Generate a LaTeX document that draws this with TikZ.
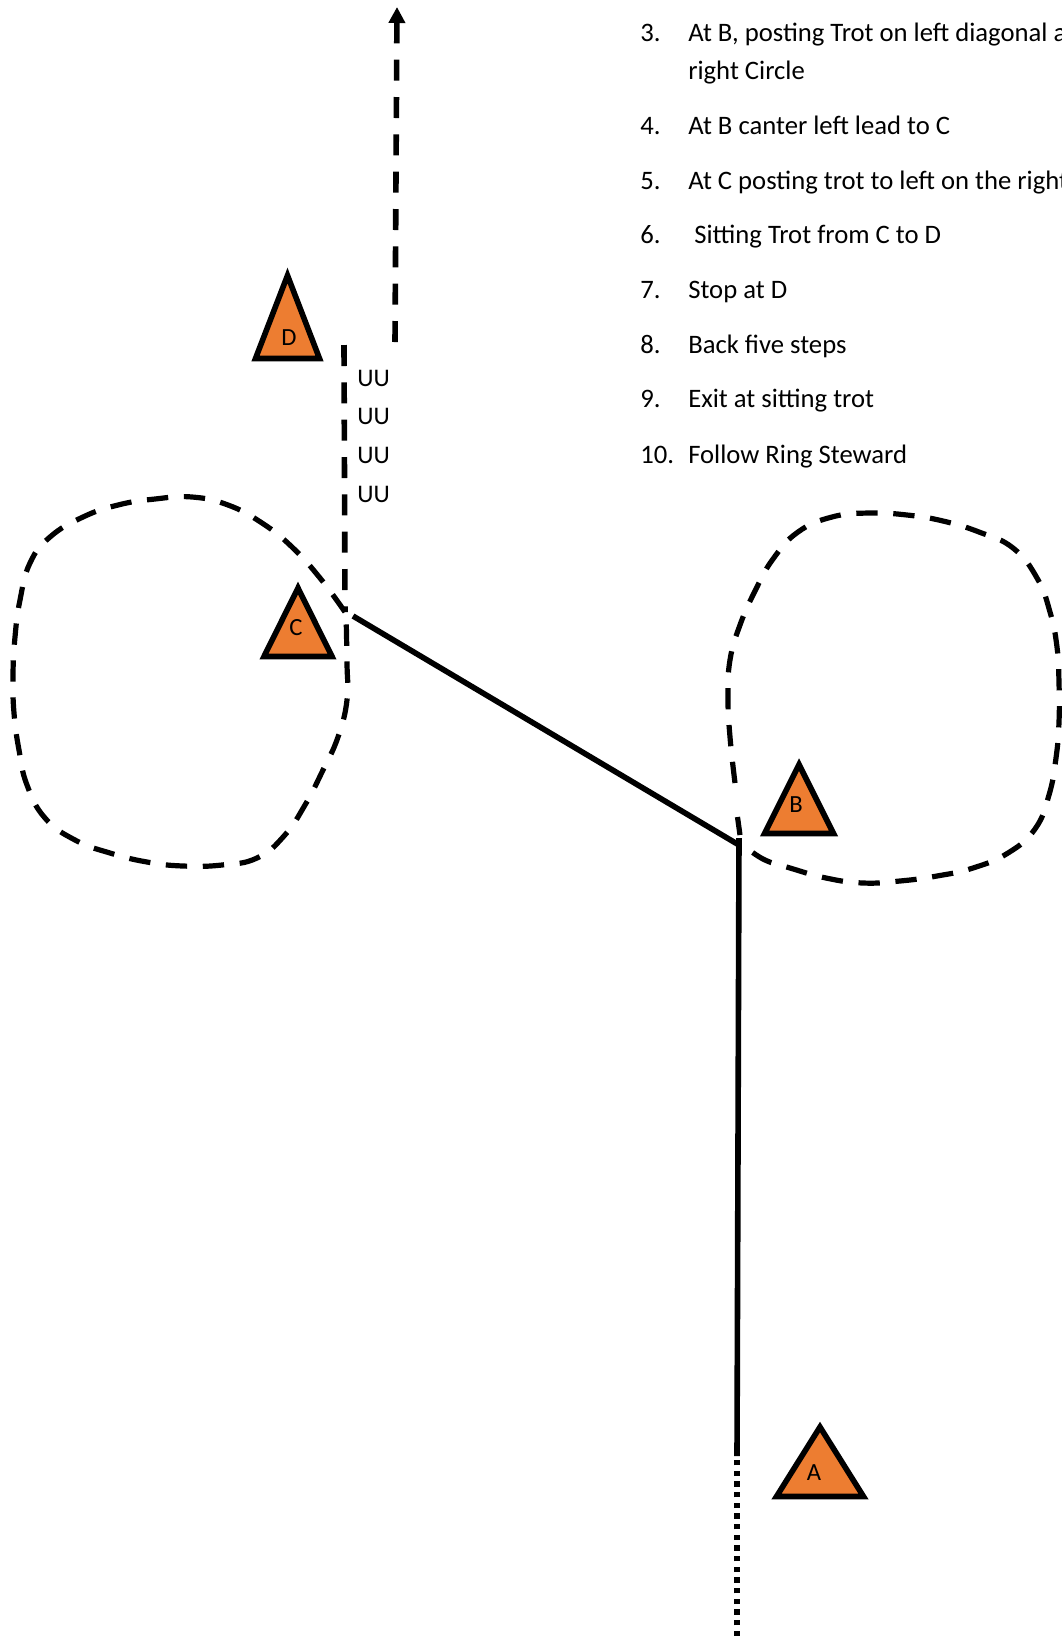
\documentclass[tikz,border=0pt]{standalone}
\usepackage{fontspec}
\setmainfont{Carlito}
\usetikzlibrary{arrows.meta}
\tikzset{
  x=0.75pt,y=-0.75pt,
  marker/.style={draw=black,fill=markerorange,line width=4.2pt,miter limit=10},
  solidline/.style={line width=4.2pt},
  loopline/.style={line width=3.9pt,dash pattern=on 16pt off 11.75pt},
  rideline/.style={line width=4.2pt,dash pattern=on 15.75pt off 12.25pt},
  dotline/.style={line width=4.2pt,dash pattern=on 4pt off 4pt},
  tag/.style={inner sep=0pt,anchor=center,font=\fontsize{18.5}{22}\selectfont},
  uu/.style={inner sep=0pt,anchor=base west,font=\fontsize{19}{22}\selectfont},
  item/.style={inner sep=0pt,anchor=base west,font=\fontsize{20}{24}\selectfont},
}
\definecolor{markerorange}{HTML}{ED7D31}
\begin{document}
\begin{tikzpicture}
\useasboundingbox (0,0) rectangle (1062,1636);
\clip (0,0) rectangle (1062,1636);
% key points
\coordinate (start) at (737,1636);
\coordinate (dotend) at (737,1456);
\coordinate (bend) at (739,838);
\coordinate (bjoin) at (739,845);
\coordinate (cjoin) at (353,616);
\coordinate (sitbottom) at (345,612);
\coordinate (sittop) at (344,345);
\coordinate (exitbottom) at (395,342);
\coordinate (exittop) at (397,7);
\coordinate (btaila) at (737.5,817);
\coordinate (btailb) at (740,835);
% circles
\draw[loopline] plot[smooth,tension=0.75] coordinates {
 (345,612) (320,578) (292,547) (262,523) (228,505) (192,497) (155,499) (118,505) (83,517) (50,537) (30,563) (20,600) (15,637) (13,675) (14,713) (19,750) (27,785) (45,818) (75,840) (110,853) (147,862) (183,866) (222,865) (257,858) (284,836) (305,805) (323,770) (338,737) (347,700) (347,663) (346,612)};
\draw[loopline] plot[smooth,tension=0.75] coordinates {
 (735,783) (730,737) (728,698) (730,660) (740,625) (755,591) (773,559) (798,532) (832,517) (869,513) (907,515) (943,521) (979,532) (1013,548) (1037,578) (1050,612) (1057,647) (1059,683) (1059,722) (1056,758) (1049,795) (1035,829) (1008,853) (973,868) (937,876) (900,881) (863,883) (826,878) (790,868) (765,860) (747,848)};
\draw[line width=3.9pt] (btaila) -- (btailb);
% track
\draw[dotline] (start) -- (dotend);
\draw[solidline] (dotend) -- (bend);
\draw[solidline] (bjoin) -- (cjoin);
\draw[rideline] (sittop) -- (sitbottom);
\draw[rideline,-{Stealth[length=12pt,width=12pt,inset=0pt]}] (exitbottom) -- (exittop);
% markers
\draw[marker] (298,588) -- (332,656.5) -- (264,656.5) -- cycle;
\draw[marker] (799,764.5) -- (833.5,833.5) -- (764.5,833.5) -- cycle;
\draw[marker] (287.5,275.5) -- (319.5,358.5) -- (255.5,358.5) -- cycle;
\draw[marker] (820,1427) -- (863.5,1496.5) -- (776.5,1496.5) -- cycle;
\node[tag] (tagC) at (296,628) {C};
\node[tag] (tagB) at (796,805) {B};
\node[tag] (tagD) at (289,338) {D};
\node[tag] (tagA) at (814,1473) {A};
% gait marks
\node[uu] (u1) at (357,386) {UU};
\node[uu] (u2) at (357,424) {UU};
\node[uu] (u3) at (357,463) {UU};
\node[uu] (u4) at (357,502) {UU};
% list
\node[item] (n3) at (640,41) {3.};
\node[item] (t3) at (688,41) {At B, posting Trot on left diagonal a};
\node[item] (t3b) at (688,79) {right Circle};
\node[item] (n4) at (640,134) {4.};
\node[item] (t4) at (688,134) {At B canter left lead to C};
\node[item] (n5) at (640,189) {5.};
\node[item] (t5) at (688,189) {At C posting trot to left on the right};
\node[item] (n6) at (640,243) {6.};
\node[item] (t6) at (694,243) {Sitting Trot from C to D};
\node[item] (n7) at (640,298) {7.};
\node[item] (t7) at (688,298) {Stop at D};
\node[item] (n8) at (640,353) {8.};
\node[item] (t8) at (688,353) {Back five steps};
\node[item] (n9) at (640,407) {9.};
\node[item] (t9) at (688,407) {Exit at sitting trot};
\node[item] (n10) at (640,463) {10.};
\node[item] (t10) at (688,463) {Follow Ring Steward};
\end{tikzpicture}
\end{document}
